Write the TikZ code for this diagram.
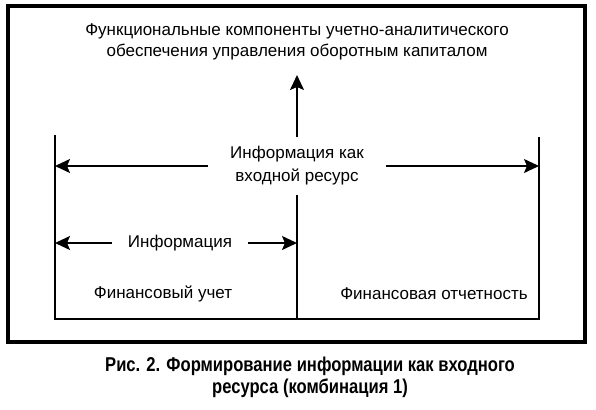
\documentclass[tikz,border=0pt]{standalone}
\usepackage{fontspec}
\setmainfont{Liberation Sans}
\newfontfamily\capfont[FakeStretch=0.83]{Liberation Sans}
\usetikzlibrary{positioning, arrows.meta}

\begin{document}
\begin{tikzpicture}[x=1pt, y=-1pt,
		lbl/.style={align=center, inner sep=0pt, font=\fontsize{17}{23}\selectfont},
		frame/.style={line width=1.7pt},
		arr/.style={line width=1.7pt, -{Stealth[length=15pt, width=14pt, inset=3pt]}}]
	\useasboundingbox (0,0) rectangle (596,409);
	\draw[line width=3.2pt] (8,6) rectangle (585,342);
	% labels
	\node[lbl, font=\fontsize{17}{21}\selectfont] (goal) at (297,42) {Функциональные компоненты учетно-аналитического\\обеспечения управления оборотным капиталом};
	\node[lbl, inner xsep=22pt] (res) at (297,166) {Информация как\\входной ресурс};
	\node[lbl, inner xsep=16pt] (info) at (180,243) {Информация};
	\node[lbl] (acc) at (163,294) {Финансовый учет};
	\node[lbl] (rep) at (434,294) {Финансовая отчетность};
	\node[align=center, inner sep=0pt, font=\capfont\bfseries\fontsize{20}{22}\selectfont] (cap) at (310,377) {Рис. 2. Формирование информации как входного\\ресурса (комбинация 1)};
	% scheme lines
	\coordinate (lt) at (55,135);
	\coordinate (lb) at (55,319);
	\coordinate (rt) at (539,137);
	\coordinate (rb) at (539,319);
	\coordinate (mt) at (297,195);
	\coordinate (mb) at (297,319);
	\coordinate (up) at (297,137);
	\coordinate (upto) at (297,75);
	\draw[frame] (lt) -- (lb) -- (rb) -- (rt);
	\draw[frame] (mt) -- (mb);
	\path[arr]
	(up) edge (upto)
	(res.west) edge (lt |- res.west)
	(res.east) edge (rt |- res.east)
	(info.west) edge (lt |- info.west)
	(info.east) edge (mt |- info.east);
\end{tikzpicture}
\end{document}
